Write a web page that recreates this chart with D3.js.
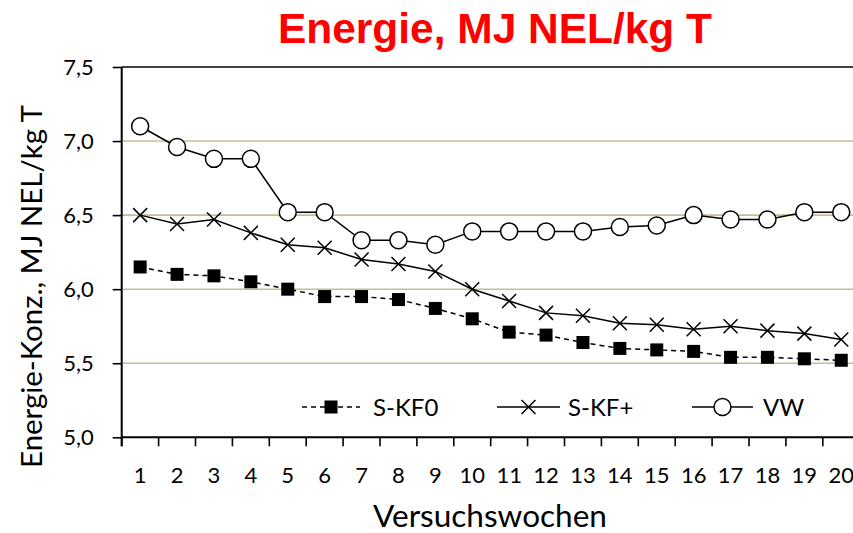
<!DOCTYPE html>
<html>
<head>
<meta charset="utf-8">
<script src="https://cdn.jsdelivr.net/npm/d3@7"></script>
<style>
  html, body { margin: 0; padding: 0; background: #fff; }
  svg { display: block; }
</style>
</head>
<body>
<svg id="chart" width="853" height="533"></svg>
<script>
// ---- Data ----
const weeks = [1,2,3,4,5,6,7,8,9,10,11,12,13,14,15,16,17,18,19,20];
const seriesNames = ["S-KF0", "S-KF+", "VW"];
const sKF0 = [6.15,6.10,6.09,6.05,6.00,5.95,5.95,5.93,5.87,5.80,5.71,5.69,5.64,5.60,5.59,5.58,5.54,5.54,5.53,5.52];
const sKFplus = [6.50,6.44,6.47,6.38,6.30,6.28,6.20,6.17,6.12,6.00,5.92,5.84,5.82,5.77,5.76,5.73,5.75,5.72,5.70,5.66];
const vw = [7.10,6.96,6.88,6.88,6.52,6.52,6.33,6.33,6.30,6.39,6.39,6.39,6.39,6.42,6.43,6.50,6.47,6.47,6.52,6.52];
const yTicks = [5.0,5.5,6.0,6.5,7.0,7.5];
const yTickLabels = ["5,0","5,5","6,0","6,5","7,0","7,5"];
const titleText = "Energie, MJ NEL/kg T";
const xTitle = "Versuchswochen";
const yTitle = "Energie-Konz., MJ NEL/kg T";

// ---- Layout ----
const W = 853, H = 533;
const plotL = 121.7, plotT = 67, plotR = 859.7, plotB = 437.3;
const svg = d3.select("#chart");
svg.append("rect").attr("width", W).attr("height", H).attr("fill", "#fff");

const x = d3.scaleBand().domain(weeks).range([plotL, plotR]);
const y = d3.scaleLinear().domain([5, 7.5]).range([plotB, plotT]);
const cx = d => x(d) + x.bandwidth() / 2;

const FONT = "Lato, 'Open Sans', sans-serif";

// gridlines
svg.append("g").selectAll("line")
  .data(yTicks.filter(v => v > 5 && v < 7.5))
  .join("line")
  .attr("x1", plotL).attr("x2", W)
  .attr("y1", d => y(d)).attr("y2", d => y(d))
  .attr("stroke", "#c4bd97").attr("stroke-width", 1.6);

// top border line
svg.append("line").attr("x1", plotL).attr("x2", W)
  .attr("y1", y(7.5)).attr("y2", y(7.5))
  .attr("stroke", "#000").attr("stroke-width", 1.6);

// y axis
const yAxis = d3.axisLeft(y).tickValues(yTicks)
  .tickFormat((d, i) => yTickLabels[i]).tickSize(9).tickPadding(19);
const gy = svg.append("g").attr("transform", `translate(${plotL},0)`).call(yAxis);
gy.select(".domain").attr("stroke", "#000").attr("stroke-width", 2)
  .attr("d", `M0,${plotT}V${plotB + 9}`);
gy.selectAll(".tick line").attr("stroke", "#000").attr("stroke-width", 1.6);
gy.selectAll(".tick text").attr("font-family", FONT).attr("font-size", 22)
  .attr("fill", "#000");

// x axis
const gx = svg.append("g").attr("transform", `translate(0,${plotB})`);
gx.append("line").attr("x1", plotL).attr("x2", W).attr("y1", 0).attr("y2", 0)
  .attr("stroke", "#000").attr("stroke-width", 2);
const bounds = weeks.map(w => x(w)).concat([plotR]);
gx.selectAll("line.tk").data(bounds).join("line").attr("class", "tk")
  .attr("x1", d => d).attr("x2", d => d).attr("y1", 0).attr("y2", 9)
  .attr("stroke", "#000").attr("stroke-width", 1.6);
gx.selectAll("text").data(weeks).join("text")
  .attr("x", d => cx(d)).attr("y", 46)
  .attr("text-anchor", "middle")
  .attr("font-family", FONT).attr("font-size", 22).attr("fill", "#000")
  .text(d => d);

// helper: fit text width by adjusting font size
function fit(sel, target) {
  const fs = parseFloat(sel.attr("font-size"));
  const len = sel.node().getComputedTextLength();
  sel.attr("font-size", fs * target / len);
}

// titles
const t = svg.append("text").attr("x", 495).attr("y", 43)
  .attr("text-anchor", "middle")
  .attr("font-family", "'Liberation Sans', Arial, sans-serif")
  .attr("font-weight", "bold").attr("font-size", 42).attr("fill", "#ff0000")
  .text(titleText);
t.attr("textLength", 434).attr("lengthAdjust", "spacingAndGlyphs");

const xt = svg.append("text").attr("x", 490).attr("y", 527)
  .attr("text-anchor", "middle").attr("font-family", FONT)
  .attr("font-size", 28).attr("fill", "#000").text(xTitle);
fit(xt, 234);

const yt = svg.append("text")
  .attr("transform", "translate(42,286.5) rotate(-90)")
  .attr("text-anchor", "middle").attr("font-family", FONT)
  .attr("font-size", 26).attr("fill", "#000").text(yTitle);
fit(yt, 363);

// series
const line = vals => d3.line().x((d, i) => cx(weeks[i])).y(d => y(d))(vals);
const gS = svg.append("g");
gS.append("path").attr("d", line(sKF0)).attr("fill", "none")
  .attr("stroke", "#000").attr("stroke-width", 1.5).attr("stroke-dasharray", "5,4");
gS.append("path").attr("d", line(sKFplus)).attr("fill", "none")
  .attr("stroke", "#000").attr("stroke-width", 1.5);
gS.append("path").attr("d", line(vw)).attr("fill", "none")
  .attr("stroke", "#000").attr("stroke-width", 1.5);

const sq = 13, xs = 7, cr = 8.5;
function square(g, px, py) {
  g.append("rect").attr("x", px - sq/2).attr("y", py - sq/2)
    .attr("width", sq).attr("height", sq).attr("fill", "#000");
}
function cross(g, px, py) {
  g.append("path").attr("d", `M${px-xs},${py-xs}L${px+xs},${py+xs}M${px-xs},${py+xs}L${px+xs},${py-xs}`)
    .attr("stroke", "#000").attr("stroke-width", 1.5);
}
function circ(g, px, py) {
  g.append("circle").attr("cx", px).attr("cy", py).attr("r", cr)
    .attr("fill", "#fff").attr("stroke", "#000").attr("stroke-width", 1.5);
}
const gm = svg.append("g");
vw.forEach((v, i) => circ(gm, cx(weeks[i]), y(v)));
sKFplus.forEach((v, i) => cross(gm, cx(weeks[i]), y(v)));
sKF0.forEach((v, i) => square(gm, cx(weeks[i]), y(v)));

// legend
const ly = 407;
const legend = [
  { name: seriesNames[0], x1: 302, x2: 360, m: square, dash: "5,4", tx: 373 },
  { name: seriesNames[1], x1: 497, x2: 560, m: cross, dash: null, tx: 568 },
  { name: seriesNames[2], x1: 692, x2: 753, m: circ, dash: null, tx: 763 }
];
const gl = svg.append("g");
legend.forEach(l => {
  gl.append("line").attr("x1", l.x1).attr("x2", l.x2).attr("y1", ly).attr("y2", ly)
    .attr("stroke", "#000").attr("stroke-width", 1.5)
    .attr("stroke-dasharray", l.dash);
  l.m(gl, (l.x1 + l.x2) / 2, ly);
  gl.append("text").attr("x", l.tx).attr("y", ly + 8.5)
    .attr("font-family", FONT).attr("font-size", 24).attr("fill", "#000")
    .text(l.name);
});
</script>
</body>
</html>
